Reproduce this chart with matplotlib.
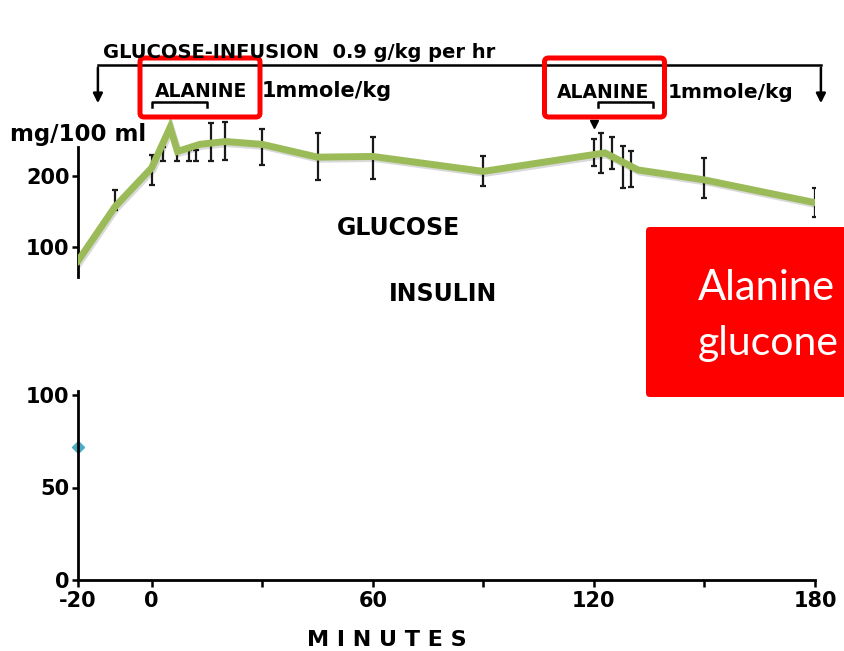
import matplotlib
matplotlib.use('Agg')
import matplotlib.pyplot as plt
import matplotlib.patheffects as pe
from matplotlib.patches import FancyBboxPatch

W, H = 844, 651

# glucose trace (green line drawn over the scan), minutes / mg per 100 ml
glucose_t = [-20, -10, 0, 5, 7, 13, 20, 30, 45, 60, 90, 123, 132, 150, 180]
glucose_mg = [80, 156, 211, 268, 234, 244, 248, 244, 226, 227, 206, 232, 208, 194, 162]

# black error bars of the scan
err_t = [-10, 0, 3, 7, 10, 12, 16, 20, 30, 45, 60, 90, 120, 122, 125, 128, 130, 150, 180]
err_mid = [166, 208, 230, 228, 228, 228, 247, 249, 240, 227, 225, 206, 232, 232, 232, 212, 209, 197, 162]
err_half = [14, 21, 10, 8, 8, 8, 27, 27, 25, 33, 30, 21, 19, 28, 23, 29, 25, 28, 20]

# insulin panel (only one point visible)
insulin_t = [-20]
insulin_val = [72]

# alanine infusion periods (minutes)
alanine_start = [0, 121]
alanine_end = [15, 136]

x_ticks = [-20, 0, 30, 60, 90, 120, 150, 180]
x_labels = ['-20', '0', '', '60', '', '120', '', '180']

plt.rcParams['font.family'] = 'DejaVu Sans'


def fig_box(left, top, right, bottom):
    # pixel box of the reference -> figure fraction rect
    return [left / W, 1 - bottom / H, (right - left) / W, (bottom - top) / H]


fig = plt.figure(figsize=(8.44, 6.51), dpi=100)

# upper panel: glucose
ax1 = fig.add_axes(fig_box(78, 20, 815, 300))
ax1.set_xlim(-20, 180)
ax1.set_ylim(25, 419)
for s in ['top', 'right', 'bottom']:
    ax1.spines[s].set_visible(False)
ax1.spines['left'].set_bounds(58, 240)
ax1.spines['left'].set_linewidth(2)
ax1.set_xticks([])
ax1.set_yticks([100, 200])
ax1.set_yticklabels(['100', '200'], fontweight='bold')
ax1.tick_params(axis='y', length=4, width=1.8, pad=2, labelsize=15)
ax1.patch.set_visible(False)

ax1.errorbar(err_t, err_mid, yerr=err_half, fmt='none', ecolor='#1a1a1a',
             elinewidth=1.6, capsize=2.5, capthick=1.6, zorder=2)
ax1.plot(glucose_t, glucose_mg, color='#9bbb59', lw=5, zorder=3,
         solid_joinstyle='miter',
         path_effects=[pe.SimpleLineShadow(offset=(1, -1.5), alpha=0.15), pe.Normal()])

# infusion bracket with arrows at both ends
ax1.plot([-14.6, 181.6], [355, 355], color='black', lw=1.8, clip_on=False)
for t in [-14.6, 181.6]:
    ax1.annotate('', xy=(t, 298), xytext=(t, 356), annotation_clip=False,
                 arrowprops=dict(arrowstyle='-|>', color='black', lw=1.8, mutation_scale=14))
for a, b in zip(alanine_start, alanine_end):
    ax1.plot([a, a, b, b], [296, 303, 303, 296], color='black', lw=1.8)
ax1.plot(120, 272, marker='v', color='black', ms=6)

# lower panel: insulin
ax2 = fig.add_axes(fig_box(78, 395, 815, 580))
ax2.set_xlim(-20, 180)
ax2.set_ylim(0, 100)
ax2.spines['top'].set_visible(False)
ax2.spines['right'].set_visible(False)
ax2.spines['left'].set_bounds(0, 102)
for s in ['left', 'bottom']:
    ax2.spines[s].set_linewidth(2)
ax2.set_xticks(x_ticks)
ax2.set_xticklabels(x_labels, fontweight='bold')
ax2.set_yticks([0, 50, 100])
ax2.set_yticklabels(['0', '50', '100'], fontweight='bold')
ax2.tick_params(axis='x', length=5, width=1.8, pad=3, labelsize=15)
ax2.tick_params(axis='y', length=4, width=1.8, pad=2, labelsize=15)
ax2.patch.set_visible(False)
ax2.plot(insulin_t, insulin_val, 'D', color='#4bacc6', ms=6, clip_on=False, zorder=1)

# overlay in reference pixels for labels and slide shapes
ax3 = fig.add_axes([0, 0, 1, 1])
ax3.set_xlim(0, W)
ax3.set_ylim(H, 0)
ax3.axis('off')

ax3.text(103, 58, 'GLUCOSE-INFUSION  0.9 g/kg per hr', fontsize=14,
         fontweight='bold', va='baseline')
ax3.text(155, 97, 'ALANINE', fontsize=13.5, fontweight='bold', va='baseline')
ax3.text(262, 97, '1mmole/kg', fontsize=15, fontweight='bold', va='baseline')
ax3.text(557, 98, 'ALANINE', fontsize=13.5, fontweight='bold', va='baseline')
ax3.text(668, 98, '1mmole/kg', fontsize=14.5, fontweight='bold', va='baseline')
ax3.text(10, 141, 'mg/100 ml', fontsize=16.5, fontweight='bold', va='baseline')
ax3.text(399, 228, 'GLUCOSE', fontsize=17, fontweight='bold', ha='center', va='center')
ax3.text(443, 294, 'INSULIN', fontsize=17, fontweight='bold', ha='center', va='center')
ax3.text(387, 640, 'M I N U T E S', fontsize=16, fontweight='bold', ha='center', va='center')

for x0 in [140, 544.5]:
    ax3.add_patch(FancyBboxPatch((x0, 58), 120, 59, boxstyle='round,pad=0,rounding_size=4',
                                 fill=False, ec='#ff0000', lw=3.6))

ax3.add_patch(FancyBboxPatch((646, 227), 230, 170, boxstyle='round,pad=0,rounding_size=4',
                             fc='#ff0000', ec='none'))
ax3.text(698, 300, 'Alanine', fontsize=30, family='Lato', color='white', va='baseline')
ax3.text(698, 355, 'glucone', fontsize=29.5, family='Lato', color='white', va='baseline')

fig.savefig('out.png', dpi=100)
